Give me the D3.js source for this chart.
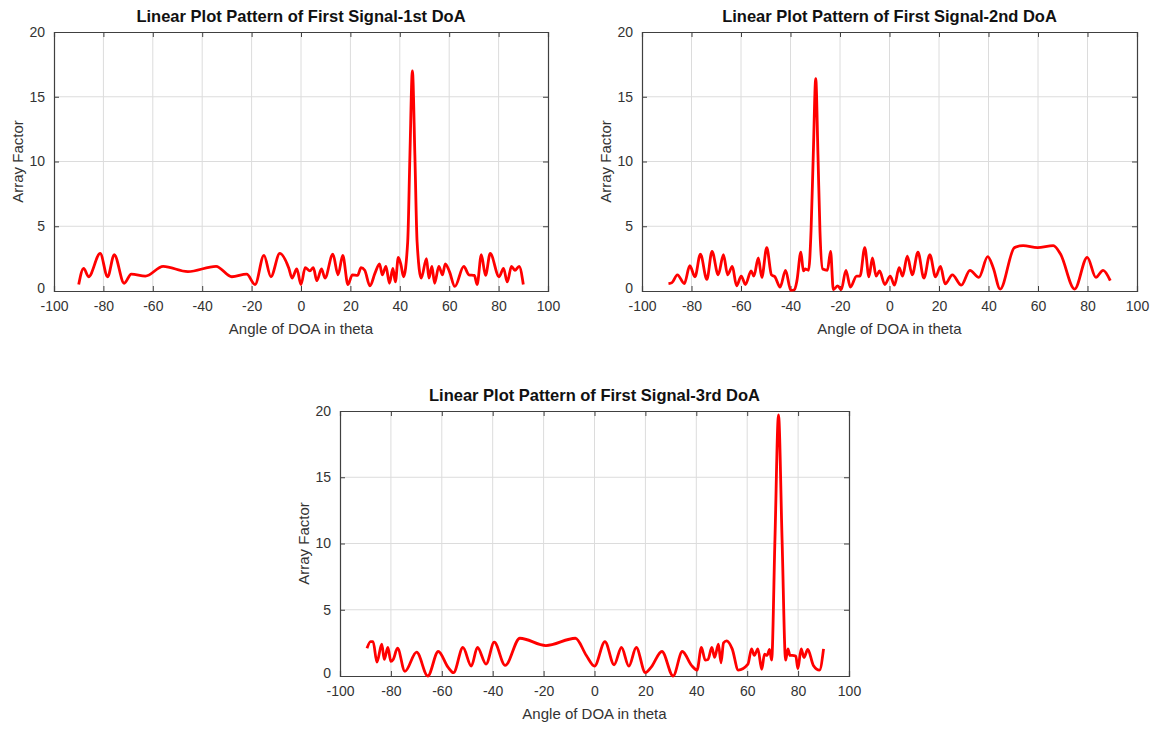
<!DOCTYPE html>
<html lang="en">
<head>
  <meta charset="UTF-8">
  <title>Linear Plot Pattern of First Signal</title>
  <script src="https://d3js.org/d3.v7.min.js"></script>
  <style>
    body { margin: 0; background: #fff; font-family: "Liberation Sans", Arial, sans-serif; }
    .grid line { stroke: #dcdcdc; stroke-width: 1; }
    .tick text { fill: #333; font-size: 14px; }
  </style>
</head>
<body>
  <svg id="chart" width="1163" height="731"></svg>
  <script>
    // tick values shared by all three panels
    const xTicks = [-100, -80, -60, -40, -20, 0, 20, 40, 60, 80, 100];
    const yTicks = [0, 5, 10, 15, 20];

    // panel 1: 1st DoA (peak near 45 deg)
    const angles1 = [-90, -88, -86, -81.3, -78.3, -75.6, -71.6, -68.7, -63, -55.8, -45.8, -34.4, -28, -22, -18.6,
      -15, -12.2, -8.6, -5, -3.6, -1.7, 0, 1.7, 3.6, 5, 6.4, 8.3, 9.7, 12.9, 15, 16.9, 19, 20.8, 22.9, 24.3, 25.8,
      27.9, 30, 31.8, 32.9, 34.4, 35.8, 37.2, 38.2, 39.4, 40.5, 41.5, 43.2, 44.1, 45.1, 46.1, 47, 48.7, 50.8, 51.8,
      53, 54.1, 55.8, 57.3, 58.4, 60.1, 62.3, 65.9, 68, 70.2, 71.3, 73, 74.7, 76.6, 80.2, 82, 83.5, 85.2, 86.6, 88.3, 90];
    const af1 = [0.5, 1.75, 1.1, 2.9, 1.1, 2.8, 0.6, 1.3, 1.15, 1.9, 1.5, 1.9, 1.1, 1.3, 0.5,
      2.75, 1.1, 2.9, 1.8, 1.0, 1.7, 0.5, 1.8, 1.55, 1.8, 0.8, 1.7, 1.0, 2.85, 1.25, 2.75, 0.5, 1.25, 1.2, 1.8, 1.6,
      0.4, 1.4, 2.1, 1.25, 1.9, 0.6, 1.75, 0.7, 2.6, 2.0, 1.1, 3.8, 10.5, 17.0, 10.5, 3.8, 1.0, 2.5, 1.0,
      1.9, 0.6, 1.9, 1.25, 2.1, 1.5, 0.35, 1.9, 1.25, 1.2, 0.5, 2.8, 1.2, 2.9, 1.1, 1.75, 0.7, 1.9, 1.6, 1.9, 0.5];

    // panel 2: 2nd DoA (peak near -30 deg)
    const angles2 = [-89.3, -87.9, -85.7, -82.9, -80.7, -78.6, -76.4, -73.8, -71.7, -69.2, -67.1, -65.4, -63.5, -61.8,
      -59.9, -58.2, -55.9, -54.8, -53, -51.6, -49.6, -47.7, -46.3, -44.2, -42, -39.9, -38.4, -37.4, -35.8, -34.8,
      -34.1, -32.7, -31.7, -30.8, -29.8, -28.9, -28.1, -27, -25.1, -23.8, -22.7, -20.9, -19.5, -17.6, -15.8, -13.3,
      -11.9, -10, -8.3, -6.9, -5.4, -4, -1.9, 0.3, 2, 3.9, 5.3, 7.2, 9.2, 11.5, 13.9, 16.3, 18.6, 20.6, 22.5, 25.4,
      29, 32.5, 36.1, 39.7, 41.9, 44.7, 50.5, 54, 59.8, 66.2, 69.1, 74.8, 79.9, 83.4, 86.3, 89.2];
    const af2 = [0.57, 0.65, 1.25, 0.57, 1.95, 1.1, 2.85, 0.9, 3.05, 1.25, 2.8, 1.25, 1.9, 0.4,
      1.15, 0.5, 1.55, 1.15, 2.55, 1.05, 3.35, 1.25, 1.1, 0.3, 1.6, 0.05, 0.1, 0.8, 3.0, 1.55,
      1.7, 1.6, 4.65, 10.5, 16.4, 10.5, 4.65, 1.7, 1.6, 3.05, 0.1, 0.4, 0.1, 1.6, 0.3, 1.15,
      1.15, 3.35, 1.1, 2.55, 1.15, 1.55, 0.5, 1.15, 0.45, 1.8, 1.15, 2.7, 1.25, 3.0, 1.0, 2.8, 1.1, 1.9, 0.55, 1.25,
      0.45, 1.6, 1.05, 2.65, 1.8, 0.15, 3.35, 3.5, 3.35, 3.5, 2.85, 0.15, 2.6, 1.05, 1.6, 0.8];

    // panel 3: 3rd DoA (peak near 72 deg)
    const angles3 = [-89.4, -88, -87, -85.5, -83.6, -82.6, -81.2, -80, -79.1, -77.4, -74.5, -69.9, -65.5, -61.4,
      -57.5, -55.4, -51.7, -48.4, -46, -42.6, -39.4, -35.1, -29.3, -19.1, -7.5, -3.2, 0, 4.1, 7.7, 10.6, 13.5,
      16.4, 20, 22.2, 26.5, 30.9, 34.5, 38.1, 40.3, 42, 43.5, 44.6, 46.1, 47.2, 48.7, 49.7, 50.7, 51.9, 54.1,
      56.5, 60.3, 61.7, 62.8, 64.2, 65.7, 66.8, 67.8, 68.8, 69.6, 70.9, 72.3, 73.7, 75.1, 76, 76.8, 77.7, 79.1,
      79.9, 81.2, 82.3, 83.8, 86, 88.4, 90];
    const af3 = [2.1, 2.6, 2.6, 1.05, 2.4, 1.25, 2.15, 1.1, 1.25, 2.1, 0.35, 1.8, 0.0, 1.85,
      0.65, 0.25, 2.15, 0.75, 2.15, 0.9, 2.55, 0.8, 2.85, 2.3, 2.85, 1.55, 0.75, 2.6, 0.85, 2.15, 0.75,
      2.15, 0.25, 0.65, 1.85, 0.0, 1.85, 0.8, 0.45, 2.15, 1.2, 1.25, 2.15, 1.4, 2.4, 1.0, 2.5, 2.65, 2.05,
      0.45, 0.9, 2.05, 1.55, 2.05, 0.5, 1.65, 1.55, 2.0, 1.2, 10.3, 19.7, 10.3, 1.2, 2.05, 1.55, 1.55, 1.5,
      0.55, 2.05, 1.4, 2.0, 0.8, 0.45, 2.05];

    const panels = [
      { title: "Linear Plot Pattern of First Signal-1st DoA", angles: angles1, values: af1, left: 54, right: 548, top: 32, bottom: 291 },
      { title: "Linear Plot Pattern of First Signal-2nd DoA", angles: angles2, values: af2, left: 642, right: 1137, top: 32, bottom: 291 },
      { title: "Linear Plot Pattern of First Signal-3rd DoA", angles: angles3, values: af3, left: 340, right: 849, top: 411, bottom: 676 }
    ];

    const svg = d3.select("#chart");
    const axisColor = "#404040";

    panels.forEach(p => {
      const x = d3.scaleLinear().domain([-100, 100]).range([p.left, p.right]);
      const y = d3.scaleLinear().domain([0, 20]).range([p.bottom, p.top]);
      const g = svg.append("g");

      // grid
      const grid = g.append("g").attr("class", "grid");
      grid.selectAll("line.v").data(xTicks.slice(1, -1)).enter().append("line")
        .attr("x1", d => x(d)).attr("x2", d => x(d)).attr("y1", p.top).attr("y2", p.bottom);
      grid.selectAll("line.h").data(yTicks.slice(1, -1)).enter().append("line")
        .attr("y1", d => y(d)).attr("y2", d => y(d)).attr("x1", p.left).attr("x2", p.right);

      // axes, ticks pointing inward like matlab, plain hyphen minus in labels
      const xAxis = g.append("g").attr("transform", `translate(0,${p.bottom})`)
        .call(d3.axisBottom(x).tickValues(xTicks).tickSize(-5).tickPadding(10).tickFormat(d => String(d)));
      const xTop = g.append("g").attr("transform", `translate(0,${p.top})`)
        .call(d3.axisTop(x).tickValues(xTicks).tickSize(-5).tickFormat(""));
      const yAxis = g.append("g").attr("transform", `translate(${p.left},0)`)
        .call(d3.axisLeft(y).tickValues(yTicks).tickSize(-5).tickPadding(9).tickFormat(d => String(d)));
      const yRight = g.append("g").attr("transform", `translate(${p.right},0)`)
        .call(d3.axisRight(y).tickValues(yTicks).tickSize(-5).tickFormat(""));
      [xAxis, xTop, yAxis, yRight].forEach(a => {
        a.select(".domain").attr("stroke", axisColor).attr("stroke-width", 1.2);
        a.selectAll(".tick line").attr("stroke", axisColor);
      });
      // nudge the zero label up a little so it clears the -100 label
      yAxis.selectAll(".tick").filter(d => d === 0).select("text").attr("dy", "0.1em");

      // curve
      const line = d3.line()
        .x((d, i) => x(p.angles[i]))
        .y(d => y(d))
        .curve(d3.curveMonotoneX);
      g.append("path")
        .datum(p.values)
        .attr("d", line)
        .attr("fill", "none")
        .attr("stroke", "#ff0000")
        .attr("stroke-width", 2.8)
        .attr("stroke-linejoin", "round");

      // labels
      const cx = (p.left + p.right) / 2;
      g.append("text").attr("x", cx).attr("y", p.top - 10)
        .attr("text-anchor", "middle").style("font-weight", "bold").style("font-size", "16.5px").attr("fill", "#111")
        .text(p.title);
      g.append("text").attr("x", cx).attr("y", p.bottom + 43)
        .attr("text-anchor", "middle").style("font-size", "15px").attr("fill", "#333")
        .text("Angle of DOA in theta");
      g.append("text").attr("transform", `translate(${p.left - 31},${(p.top + p.bottom) / 2}) rotate(-90)`)
        .attr("text-anchor", "middle").style("font-size", "15px").attr("fill", "#333")
        .text("Array Factor");
    });
  </script>
</body>
</html>
